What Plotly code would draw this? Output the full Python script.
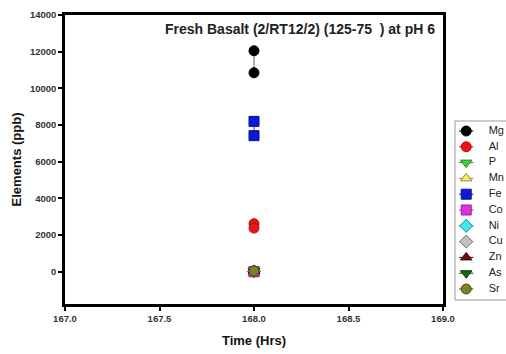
import plotly.graph_objects as go

# Replicate measurements at t = 168 h, concentrations in ppb
elements = ["Mg", "Al", "P", "Mn", "Fe", "Co", "Ni", "Cu", "Zn", "As", "Sr"]
time_hrs = [168.0, 168.0]
mg = [12050, 10850]
al = [2620, 2380]
p = [40, 30]
mn = [15, 10]
fe = [8200, 7420]
co = [8, 5]
ni = [20, 15]
cu = [12, 10]
zn = [60, 45]
as_ = [6, 4]
sr = [50, 40]
series = [mg, al, p, mn, fe, co, ni, cu, zn, as_, sr]

y_ticks = [0, 2000, 4000, 6000, 8000, 10000, 12000, 14000]
x_ticks = [167.0, 167.5, 168.0, 168.5, 169.0]

styles = {
    "Mg": dict(symbol="circle", color="#000000", line="#000000"),
    "Al": dict(symbol="circle", color="#e8141b", line="#b01010"),
    "P": dict(symbol="triangle-down", color="#3fcf3f", line="#208a20"),
    "Mn": dict(symbol="triangle-up", color="#f0f060", line="#909030"),
    "Fe": dict(symbol="square", color="#0a1adb", line="#0a1090"),
    "Co": dict(symbol="square", color="#e030e0", line="#902090"),
    "Ni": dict(symbol="diamond", color="#40e8f0", line="#208890"),
    "Cu": dict(symbol="diamond", color="#c0c0c0", line="#707070"),
    "Zn": dict(symbol="triangle-up", color="#6b0d0d", line="#400808"),
    "As": dict(symbol="triangle-down", color="#10681a", line="#0a4010"),
    "Sr": dict(symbol="circle", color="#80802a", line="#4a4a10"),
}
line_colors = {"Mg": "#606060", "Fe": "#3040c0"}

W, H = 506, 354
L, T, B = 65, 15, 50
plot_right = 443
plot_w = W - L
plot_h = H - T - B
main_dom = (plot_right - L) / plot_w

font_family = "Liberation Sans, Arial, sans-serif"

fig = go.Figure()

for name, vals in zip(elements, series):
    st = styles[name]
    fig.add_trace(go.Scatter(
        x=time_hrs, y=vals, mode="lines+markers", name=name, showlegend=False,
        line=dict(color=line_colors.get(name, st["color"]), width=1),
        marker=dict(symbol=st["symbol"], size=10, color=st["color"],
                    line=dict(color=st["line"], width=1)),
        xaxis="x", yaxis="y",
    ))

# Key: one row per element on a helper axis pair
for i, name in enumerate(elements):
    st = styles[name]
    fig.add_trace(go.Scatter(
        x=[0.08, 0.36], y=[i, i], mode="lines", showlegend=False,
        line=dict(color=st["line"], width=1), xaxis="x2", yaxis="y2",
        hoverinfo="skip",
    ))
    fig.add_trace(go.Scatter(
        x=[0.22], y=[i], mode="markers", showlegend=False,
        marker=dict(symbol=st["symbol"], size=10, color=st["color"],
                    line=dict(color=st["line"], width=1)),
        xaxis="x2", yaxis="y2", hoverinfo="skip",
    ))
fig.add_trace(go.Scatter(
    x=[0.66] * len(elements), y=list(range(len(elements))), mode="text",
    text=elements, textposition="middle right", showlegend=False,
    textfont=dict(family=font_family, size=11, color="#222222"),
    xaxis="x2", yaxis="y2", hoverinfo="skip", cliponaxis=False,
))

key_top, key_bot = 121, 300
row0, row_step = 131, 15.8

fig.update_layout(
    width=W, height=H,
    margin=dict(l=L, r=0, t=T, b=B, autoexpand=False),
    paper_bgcolor="white", plot_bgcolor="white",
    font=dict(family=font_family, color="#222222"),
    xaxis=dict(
        domain=[0, main_dom], range=[167.0, 169.0], automargin=False,
        tickvals=x_ticks, tickformat=".1f",
        showgrid=False, zeroline=False,
        showline=True, linecolor="black", linewidth=2.5, mirror=True,
        ticks="outside", ticklen=4, tickwidth=1.5, tickcolor="black",
        tickfont=dict(size=9.5, color="#333333", family="Liberation Sans, Arial", weight="bold"),
        title=dict(text="<b>Time (Hrs)</b>", font=dict(size=13, color="#111111"), standoff=13),
    ),
    yaxis=dict(
        range=[-1760, 14000], automargin=False,
        tickvals=y_ticks, tickformat="d",
        showgrid=False, zeroline=False,
        showline=True, linecolor="black", linewidth=2.5, mirror=True,
        ticks="outside", ticklen=4, tickwidth=1.5, tickcolor="black",
        tickfont=dict(size=9.5, color="#333333", family="Liberation Sans, Arial", weight="bold"),
        title=dict(text="<b>Elements (ppb)</b>", font=dict(size=13, color="#111111"), standoff=6),
    ),
    xaxis2=dict(
        domain=[(455 - L) / plot_w, 1.0], range=[0, 1], anchor="y2",
        visible=False, fixedrange=True, automargin=False,
    ),
    yaxis2=dict(
        domain=[(H - B - key_bot) / plot_h, (H - B - key_top) / plot_h],
        range=[(key_bot - row0) / row_step, -(row0 - key_top) / row_step],
        anchor="x2", visible=False, fixedrange=True, automargin=False,
    ),
    shapes=[dict(
        type="rect", xref="x2 domain", yref="y2 domain",
        x0=0, x1=1.6, y0=0, y1=1,
        line=dict(color="#9a9a9a", width=1), fillcolor="rgba(0,0,0,0)",
    )],
    annotations=[dict(
        text="<b>Fresh Basalt (2/RT12/2) (125-75  ) at pH 6</b>",
        xref="paper", yref="paper",
        x=(163 - L) / plot_w, y=(H - B - 29) / plot_h,
        xanchor="left", yanchor="middle", showarrow=False,
        font=dict(size=14, color="#222222"),
    )],
)

fig.write_html("out.html")
